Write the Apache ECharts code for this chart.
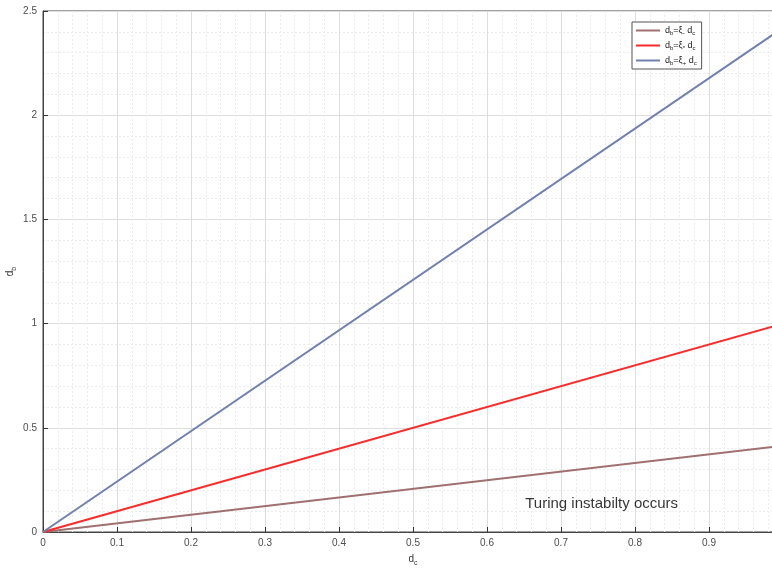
<!DOCTYPE html>
<html><head><meta charset="utf-8">
<script src="https://cdn.jsdelivr.net/npm/echarts@6/dist/echarts.min.js"></script>
<style>html,body{margin:0;padding:0;background:#fff}#c{width:772px;height:568px}</style>
</head><body><div id="c"></div>
<script>
const xValues = [0, 1];
const lowerLine = [0, 0.414];
const middleLine = [0, 1.0];
const upperLine = [0, 2.42];
const xTicks = [0, 0.1, 0.2, 0.3, 0.4, 0.5, 0.6, 0.7, 0.8, 0.9];
const yTicks = [0, 0.5, 1, 1.5, 2, 2.5];
const annotation = 'Turing instabilty occurs';
const annotationAt = [0.651, 0.134];
const seriesNames = ['lower', 'middle', 'upper'];

const chart = echarts.init(document.getElementById('c'));
const pairs = (ys) => xValues.map((x, i) => [x, ys[i]]);
const tickFont = {color: '#4d4d4d', fontSize: 10, fontFamily: 'Liberation Sans'};
const legendLabels = {
  lower: '{n|d}{s|b}{n|=ξ}{s|-}{n| d}{s|c}',
  middle: '{n|d}{s|b}{n|=ξ}{s|*}{n| d}{s|c}',
  upper: '{n|d}{s|b}{n|=ξ}{s|+}{n| d}{s|c}'
};
chart.setOption({
  animation: false,
  grid: {left: 43, top: 11, width: 740, height: 521, show: true, borderColor: '#444', borderWidth: 1, containLabel: false, outerBoundsMode: 'none'},
  xAxis: {
    type: 'value', min: 0, max: 1, interval: 0.1,
    name: '{n|d}{s|c}', nameLocation: 'middle', nameGap: 20, nameMoveOverlap: false,
    nameTextStyle: {rich: {n: {fontSize: 10, color: '#333'}, s: {fontSize: 7, color: '#333', padding: [8, 0, 0, 0]}}},
    axisLine: {lineStyle: {color: '#444'}},
    axisTick: {inside: true, length: 5, lineStyle: {color: '#333'}},
    axisLabel: Object.assign({}, tickFont, {margin: 6, formatter: v => xTicks.some(t => Math.abs(t - v) < 1e-9) ? String(+v.toFixed(1)) : ''}),
    splitLine: {show: true, lineStyle: {color: '#dedede', width: 1}},
    minorTick: {show: false, splitNumber: 5},
    minorSplitLine: {show: true, lineStyle: {color: '#ececec', type: [2, 2]}}
  },
  yAxis: {
    type: 'value', min: 0, max: 2.5, interval: 0.5,
    name: '{n|d}{s|b}', nameLocation: 'middle', nameGap: 25, nameRotate: 90, nameMoveOverlap: false,
    nameTextStyle: {rich: {n: {fontSize: 10, color: '#333'}, s: {fontSize: 7, color: '#333', padding: [8, 0, 0, 0]}}},
    axisLine: {show: true, lineStyle: {color: '#444'}},
    axisTick: {show: true, inside: true, length: 5, lineStyle: {color: '#333'}},
    axisLabel: Object.assign({}, tickFont, {margin: 6, formatter: v => String(+v.toFixed(1))}),
    splitLine: {show: true, lineStyle: {color: '#dedede', width: 1}},
    minorTick: {show: false, splitNumber: 5},
    minorSplitLine: {show: true, lineStyle: {color: '#ececec', type: [2, 2]}}
  },
  legend: {
    orient: 'vertical', left: 632, top: 22, itemWidth: 24, itemHeight: 2, itemGap: 5,
    backgroundColor: '#fff', borderColor: '#555', borderWidth: 1, padding: [4, 5, 3, 4],
    icon: 'rect',
    formatter: n => legendLabels[n],
    textStyle: {rich: {n: {fontSize: 9, color: '#222', fontFamily: 'Liberation Sans'}, s: {fontSize: 6, color: '#222', padding: [5, 0, 0, 0]}}},
    data: seriesNames
  },
  series: [
    {name: 'lower', type: 'line', data: pairs(lowerLine), showSymbol: false, lineStyle: {color: '#a07070', width: 2}, itemStyle: {color: '#a07070'}},
    {name: 'middle', type: 'line', data: pairs(middleLine), showSymbol: false, lineStyle: {color: '#ff2a2a', width: 2}, itemStyle: {color: '#ff2a2a'}},
    {name: 'upper', type: 'line', data: pairs(upperLine), showSymbol: false, lineStyle: {color: '#7080b0', width: 2}, itemStyle: {color: '#7080b0'}},
    {name: 'annotation', type: 'scatter', data: [annotationAt], symbolSize: 1, itemStyle: {color: 'rgba(0,0,0,0)'}, silent: true,
     label: {show: true, formatter: annotation, position: 'right', distance: 0, fontSize: 15, color: '#000', fontFamily: 'Liberation Sans'}}
  ]
});
</script></body></html>
